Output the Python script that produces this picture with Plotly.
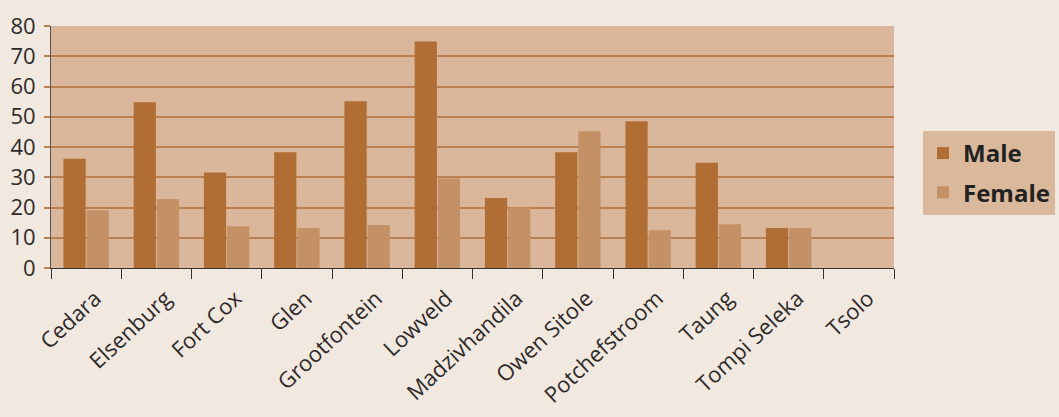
import plotly.graph_objects as go

categories = ["Cedara", "Elsenburg", "Fort Cox", "Glen", "Grootfontein", "Lowveld",
              "Madzivhandila", "Owen Sitole", "Potchefstroom", "Taung", "Tompi Seleka", "Tsolo"]
male = [36.1, 54.8, 31.6, 38.3, 55.1, 74.9, 23.1, 38.3, 48.5, 34.8, 13.2, 0]
female = [19.1, 22.8, 13.8, 13.2, 14.2, 29.6, 20.0, 45.2, 12.5, 14.5, 13.2, 0]
y_ticks = [0, 10, 20, 30, 40, 50, 60, 70, 80]

MALE_C = "#b06e35"
FEMALE_C = "#c49066"
PLOT_BG = "#dab79a"
GRID_C = "#bc8050"
TEXT_C = "#2e2a28"
FONT = "Open Sans"

fig = go.Figure()
fig.add_trace(go.Bar(name="Male", x=categories, y=male, legendgroup="m",
                     marker=dict(color=MALE_C, line=dict(width=0))))
fig.add_trace(go.Bar(name="Female", x=categories, y=female, legendgroup="f",
                     marker=dict(color=FEMALE_C, line=dict(width=0))))

fig.update_layout(
    width=1059, height=417,
    margin=dict(l=51, r=165, t=26, b=149),
    paper_bgcolor="#f1e8e0",
    plot_bgcolor=PLOT_BG,
    barmode="group",
    bargap=0.34,
    bargroupgap=0.04,
    font=dict(family=FONT, size=21, color=TEXT_C),
    legend=dict(
        xref="container", yref="container",
        x=923 / 1059, xanchor="left", y=1 - 131 / 417, yanchor="top",
        bgcolor="#dab89b",
        font=dict(family=FONT, size=24, color="#222222", weight="bold"),
        itemwidth=30,
        traceorder="grouped",
        tracegroupgap=5,
    ),
    showlegend=True,
)
fig.update_xaxes(
    type="category",
    automargin=False,
    tickson="boundaries",
    ticks="outside", ticklen=10, tickcolor="#333333", tickwidth=1,
    showline=True, linecolor="#333333", linewidth=1,
    tickangle=-43,
    ticklabelstandoff=8,
    ticklabelshift=9,
    tickfont=dict(family=FONT, size=22, color=TEXT_C),
    showgrid=False,
)
fig.update_yaxes(
    range=[0, 80],
    automargin=False,
    tickvals=y_ticks,
    ticks="outside", ticklen=6, tickcolor=GRID_C, tickwidth=1.5,
    showline=True, linecolor="#555555", linewidth=1,
    showgrid=True, gridcolor=GRID_C, gridwidth=1.5,
    zeroline=False,
    ticklabelstandoff=4,
    tickfont=dict(family=FONT, size=22, color=TEXT_C),
)

fig.write_html("out.html", config={"displayModeBar": False},
               post_script="document.body.style.margin='0';document.body.style.padding='0';")
